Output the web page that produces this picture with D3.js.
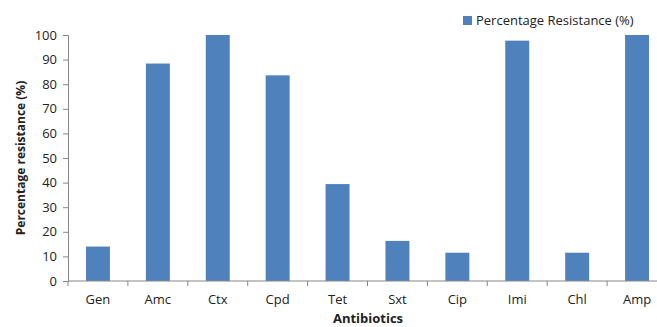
<!DOCTYPE html>
<html><head><meta charset="utf-8">
<script src="https://cdn.jsdelivr.net/npm/d3@7/dist/d3.min.js"></script>
<style>body{margin:0;background:#fff}svg{display:block}text{font-family:"Open Sans",sans-serif}</style>
</head><body><div id="c"></div>
<script>
const categories = ["Gen","Amc","Ctx","Cpd","Tet","Sxt","Cip","Imi","Chl","Amp"];
const values = [14, 88.4, 100, 83.6, 39.4, 16.3, 11.5, 97.7, 11.5, 100];
const yTicks = [0,10,20,30,40,50,60,70,80,90,100];
const seriesName = "Percentage Resistance (%)";

const W = 657, H = 327;
const svg = d3.select("#c").append("svg").attr("width", W).attr("height", H);
const x = d3.scaleBand().domain(categories).range([68, 667]).paddingInner(0.6).paddingOuter(0.3);
const y = d3.scaleLinear().domain([0, 100]).range([281, 35]);
const axisColor = "#868686";

svg.selectAll("rect.bar").data(categories).enter().append("rect")
  .attr("x", d => x(d)).attr("width", x.bandwidth())
  .attr("y", (d,i) => y(values[i])).attr("height", (d,i) => y(0) - y(values[i]))
  .attr("fill", "#4F81BD");

const ya = svg.append("g").attr("transform", "translate(68,0)")
  .call(d3.axisLeft(y).tickValues(yTicks).tickSize(5).tickPadding(6));
ya.select(".domain").attr("stroke", axisColor);
ya.selectAll("line").attr("stroke", axisColor);
ya.selectAll("text").attr("font-size", 13).attr("fill", "#222");

// x axis with ticks at band boundaries
const xg = svg.append("g");
xg.append("line").attr("x1", 68).attr("x2", 667).attr("y1", y(0)).attr("y2", y(0)).attr("stroke", axisColor);
const step = x.step();
const bounds = categories.map(d => x(d) - (step - x.bandwidth())/2);
xg.selectAll("line.t").data(bounds).enter().append("line")
  .attr("x1", d => d).attr("x2", d => d).attr("y1", y(0)).attr("y2", y(0) + 5).attr("stroke", axisColor);
xg.selectAll("text").data(categories).enter().append("text")
  .attr("x", d => x(d) + x.bandwidth()/2).attr("y", 304)
  .attr("text-anchor", "middle").attr("font-size", 13).attr("fill", "#222").text(d => d);

svg.append("text").attr("transform", "translate(25,158) rotate(-90)")
  .attr("text-anchor", "middle").attr("font-size", 12).attr("font-weight", "bold").attr("fill", "#222")
  .text("Percentage resistance (%)");
svg.append("text").attr("x", 368).attr("y", 323).attr("text-anchor", "middle")
  .attr("font-size", 13).attr("font-weight", "bold").attr("fill", "#222").text("Antibiotics");

svg.append("rect").attr("x", 463).attr("y", 16).attr("width", 9).attr("height", 9).attr("fill", "#4F81BD");
svg.append("text").attr("x", 476).attr("y", 25).attr("font-size", 13).attr("fill", "#222").text(seriesName);
</script></body></html>
